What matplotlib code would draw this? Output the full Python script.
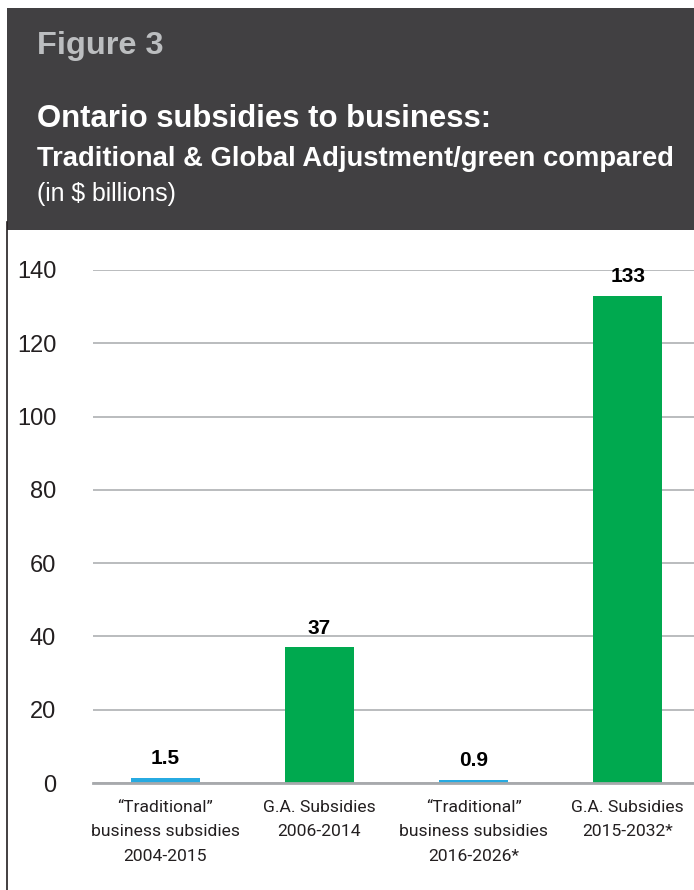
import matplotlib.pyplot as plt
from matplotlib.patches import Rectangle
from matplotlib.lines import Line2D

categories = [
    "\u201cTraditional\u201d\nbusiness subsidies\n2004-2015",
    "G.A. Subsidies\n2006-2014",
    "\u201cTraditional\u201d\nbusiness subsidies\n2016-2026*",
    "G.A. Subsidies\n2015-2032*",
]
values = [1.5, 37, 0.9, 133]
value_labels = ["1.5", "37", "0.9", "133"]
bar_colors = ["#27aae1", "#00a94f", "#27aae1", "#00a94f"]
yticks = [0, 20, 40, 60, 80, 100, 120, 140]

W, H = 694, 890
head = ["Liberation Sans", "DejaVu Sans"]
cats = ["Roboto", "DejaVu Sans"]
plain = ["Liberation Sans", "DejaVu Sans"]

fig = plt.figure(figsize=(W / 100, H / 100), dpi=100)
fig.patch.set_facecolor("white")

# dark header block
fig.add_artist(Rectangle((7 / W, 1 - 230 / H), 1 - 7 / W, 222 / H,
                         transform=fig.transFigure, facecolor="#414042",
                         edgecolor="none"))
# left rule under the header
fig.add_artist(Line2D([6.5 / W, 6.5 / W], [0, 1 - 222 / H],
                      transform=fig.transFigure, color="#231f20", lw=1.2))

fig.text(37 / W, 1 - 54 / H, "Figure 3", color="#bcbec0", fontsize=23.4,
         fontweight="bold", family=head, va="baseline")
fig.text(37 / W, 1 - 127 / H, "Ontario subsidies to business:", color="white",
         fontsize=22.45, fontweight="bold", family=head, va="baseline")
fig.text(37 / W, 1 - 166 / H, "Traditional & Global Adjustment/green compared",
         color="white", fontsize=19.7, fontweight="bold", family=head,
         va="baseline")
fig.text(37 / W, 1 - 201 / H, "(in $ billions)", color="white", fontsize=17.9,
         family=head, va="baseline")

# plot area: y=0 at 783px, y=140 at 270px
ax = fig.add_axes([93 / W, 1 - 783 / H, 1 - 93 / W, 513 / H])
x = list(range(len(categories)))
ax.bar(x, values, width=0.45, color=bar_colors, zorder=2)
ax.set_xlim(-0.47, 3.43)
ax.set_ylim(0, 140)
ax.set_yticks(yticks)
ax.yaxis.grid(True, color="#a7a9ac", lw=1.1)
ax.set_axisbelow(True)
for s in ["top", "right", "left"]:
    ax.spines[s].set_visible(False)
ax.spines["bottom"].set_color("#a7a9ac")
ax.spines["bottom"].set_linewidth(2)
ax.tick_params(axis="y", length=0, pad=26.5, labelsize=17, labelcolor="#231f20")
ax.tick_params(axis="x", length=0, pad=12)
for lab in ax.get_yticklabels():
    lab.set_family(plain)
ax.set_xticks(x)
ax.set_xticklabels(categories, fontsize=12.6, family=cats, color="#231f20",
                   linespacing=1.8)

for xi, v, t in zip(x, values, value_labels):
    ax.annotate(t, (xi, v), xytext=(0, 7), textcoords="offset points",
                ha="center", va="bottom", fontsize=15, fontweight="bold",
                family=plain, color="#000000", zorder=3)

fig.savefig("out.png", dpi=100)
